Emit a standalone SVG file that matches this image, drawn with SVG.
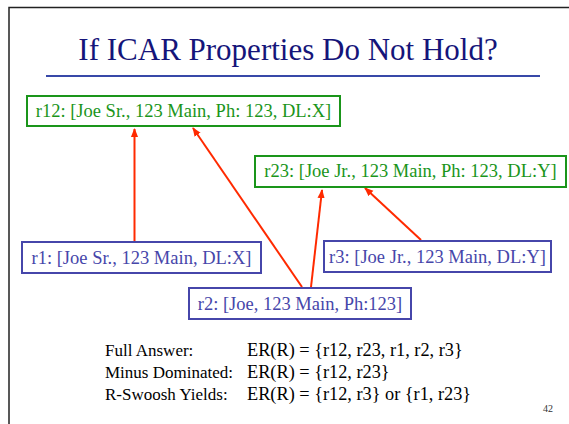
<svg xmlns="http://www.w3.org/2000/svg" width="569" height="424" viewBox="0 0 569 424">
  <style>
    .frame { fill: none; stroke: #222; stroke-width: 1.5; }
    .title { font-size: 31px; fill: #15157a; }
    .rule { stroke: #3848a8; stroke-width: 2; }
    .merged rect { fill: #fff; stroke: #1a951a; stroke-width: 2; }
    .merged text { fill: #1a951a; }
    .base rect { fill: #fff; stroke: #4646aa; stroke-width: 2; }
    .base text { fill: #4646aa; }
    .lbl { font-size: 18.5px; }
    .body { fill: #000; }
    .key { font-size: 17px; }
    .val { font-size: 18.3px; }
    .page { font-size: 10px; fill: #333; }
    .edge { stroke: #ff2a00; stroke-width: 2; fill: none; marker-end: url(#arrow); }
  </style>
  <defs>
    <marker id="arrow" viewBox="0 0 10 10" refX="9" refY="5" markerWidth="4.5" markerHeight="4.5" orient="auto" markerUnits="strokeWidth">
      <path d="M0,1 L10,5 L0,9 z" fill="#ff2a00"/>
    </marker>
  </defs>

  <rect width="569" height="424" fill="#fff"/>
  <!-- slide frame (top and left edges visible) -->
  <path class="frame" d="M9,424 V7.5 H569"/>

  <text class="title" font-family="Liberation Serif" x="288" y="60" text-anchor="middle">If ICAR Properties Do Not Hold?</text>
  <line class="rule" x1="46" y1="76" x2="540" y2="76"/>

  <g id="connectors">
    <line class="edge" x1="134.5" y1="242" x2="134.5" y2="129"/>
    <line class="edge" x1="302" y1="287" x2="193" y2="128"/>
    <line class="edge" x1="311" y1="287" x2="322" y2="190"/>
    <line class="edge" x1="421" y1="240" x2="365" y2="188"/>
  </g>

  <g id="r12" class="merged">
    <rect x="27" y="96" width="313" height="30"/>
    <text class="lbl" font-family="Liberation Serif" x="183.5" y="117" text-anchor="middle">r12: [Joe Sr., 123 Main, Ph: 123, DL:X]</text>
  </g>
  <g id="r23" class="merged">
    <rect x="255" y="156" width="311" height="31"/>
    <text class="lbl" font-family="Liberation Serif" x="410.5" y="177" text-anchor="middle">r23: [Joe Jr., 123 Main, Ph: 123, DL:Y]</text>
  </g>
  <g id="r1" class="base">
    <rect x="22" y="242" width="239" height="31"/>
    <text class="lbl" font-family="Liberation Serif" x="141.5" y="264" text-anchor="middle">r1: [Joe Sr., 123 Main, DL:X]</text>
  </g>
  <g id="r3" class="base">
    <rect x="324" y="241" width="227" height="31"/>
    <text class="lbl" font-family="Liberation Serif" x="437.5" y="263" text-anchor="middle">r3: [Joe Jr., 123 Main, DL:Y]</text>
  </g>
  <g id="r2" class="base">
    <rect x="189" y="288" width="222" height="31"/>
    <text class="lbl" font-family="Liberation Serif" x="300" y="310" text-anchor="middle">r2: [Joe, 123 Main, Ph:123]</text>
  </g>

  <g id="summary" class="body" font-family="Liberation Serif">
    <text class="key" x="105" y="356">Full Answer:</text>
    <text class="val" x="247" y="356">ER(R) = {r12, r23, r1, r2, r3}</text>
    <text class="key" x="105" y="378">Minus Dominated:</text>
    <text class="val" x="247" y="378">ER(R) = {r12, r23}</text>
    <text class="key" x="105" y="400">R-Swoosh Yields:</text>
    <text class="val" x="247" y="400">ER(R) = {r12, r3} or {r1, r23}</text>
  </g>
  <text class="page" font-family="Liberation Serif" x="553" y="412" text-anchor="end">42</text>
</svg>
